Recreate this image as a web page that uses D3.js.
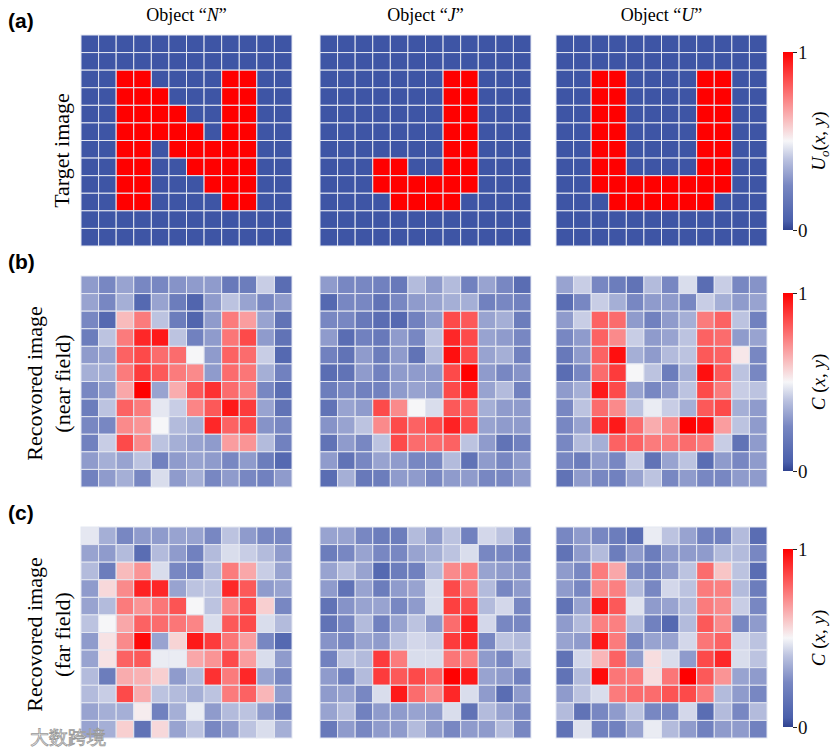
<!DOCTYPE html>
<html>
<head>
<meta charset="utf-8">
<title>Target and recovered images</title>
<style>
  body { margin: 0; background: #fff; }
  text { font-family: "Liberation Serif", "Times New Roman", serif; }
  .tag { font-family: "Liberation Sans", Arial, sans-serif; font-weight: bold; }
</style>
</head>
<body>
<svg width="833" height="748"></svg>
<script src="https://d3js.org/d3.v7.min.js"></script>
<script>
// ---- data ----
var letters = ["N", "J", "U"];
var rowTags = ["(a)", "(b)", "(c)"];
var rowTitles = [["Target image"], ["Recovored image", "(near field)"], ["Recovored image", "(far field)"]];
var cbarLabels = ["U", "C", "C"];
var cbarTicks = [0, 1];

// target images, 1 = letter pixel
var targetN = [
  "000000000000",
  "000000000000",
  "001100001100",
  "001110001100",
  "001111001100",
  "001111101100",
  "001101111100",
  "001100111100",
  "001100011100",
  "001100001100",
  "000000000000",
  "000000000000"];
var targetJ = [
  "000000000000",
  "000000000000",
  "000000011000",
  "000000011000",
  "000000011000",
  "000000011000",
  "000000011000",
  "000110011000",
  "000111111000",
  "000011110000",
  "000000000000",
  "000000000000"];
var targetU = [
  "000000000000",
  "000000000000",
  "001100001100",
  "001100001100",
  "001100001100",
  "001100001100",
  "001100001100",
  "001100001100",
  "001111111100",
  "000111111000",
  "000000000000",
  "000000000000"];

// recovered, near field
var nearN = [
  [.30,.25,.32,.25,.25,.28,.30,.30,.18,.20,.42,.12],
  [.32,.25,.35,.10,.32,.20,.08,.30,.40,.32,.25,.30],
  [.25,.10,.62,.75,.40,.20,.08,.30,.75,.68,.32,.15],
  [.20,.40,.75,.92,.95,.40,.22,.30,.76,.85,.30,.15],
  [.30,.32,.80,.85,.78,.78,.50,.30,.80,.78,.42,.10],
  [.35,.35,.75,.88,.82,.75,.72,.30,.78,.76,.35,.22],
  [.25,.30,.66,1.0,.32,.65,.82,.90,.78,.75,.25,.12],
  [.20,.40,.80,.75,.47,.42,.73,.82,.95,.88,.32,.15],
  [.25,.25,.72,.70,.50,.38,.35,.92,.80,.85,.28,.25],
  [.22,.42,.85,.72,.40,.35,.32,.30,.68,.70,.38,.22],
  [.30,.35,.32,.40,.22,.30,.32,.30,.25,.30,.20,.10],
  [.22,.30,.35,.25,.45,.30,.35,.25,.30,.25,.22,.30]];
var nearJ = [
  [.30,.25,.25,.22,.18,.38,.30,.38,.22,.32,.25,.12],
  [.10,.25,.25,.15,.25,.30,.32,.35,.35,.22,.25,.22],
  [.25,.25,.18,.12,.10,.22,.30,.85,.82,.32,.35,.20],
  [.30,.12,.22,.18,.30,.25,.40,.92,.85,.32,.30,.25],
  [.22,.15,.30,.20,.30,.15,.38,.97,.85,.32,.35,.22],
  [.12,.15,.30,.22,.30,.30,.30,.85,1.0,.30,.25,.28],
  [.20,.25,.22,.22,.30,.32,.30,.85,.92,.32,.38,.22],
  [.15,.32,.30,.85,.72,.50,.45,.82,.80,.35,.30,.30],
  [.28,.32,.40,.72,.85,.80,.85,.93,.85,.32,.30,.30],
  [.15,.30,.25,.40,.85,.78,.78,.80,.40,.30,.15,.22],
  [.30,.15,.25,.32,.30,.25,.25,.38,.15,.30,.25,.30],
  [.12,.35,.18,.20,.30,.30,.25,.30,.30,.25,.25,.30]];
var nearU = [
  [.32,.42,.25,.20,.15,.38,.25,.45,.12,.42,.25,.28],
  [.12,.25,.42,.35,.25,.30,.30,.25,.42,.35,.30,.32],
  [.30,.42,.80,.78,.30,.22,.30,.35,.75,.80,.40,.22],
  [.25,.30,.80,.72,.42,.30,.32,.40,.80,.78,.30,.32],
  [.18,.30,.80,.97,.35,.30,.38,.40,.82,.80,.53,.25],
  [.12,.25,.78,.88,.50,.40,.20,.35,.97,.82,.40,.25],
  [.30,.35,.95,.85,.32,.25,.30,.40,.85,.75,.42,.40],
  [.25,.40,.78,.72,.40,.48,.42,.35,.82,.85,.35,.30],
  [.25,.32,.90,.95,.78,.65,.72,1.0,.97,.68,.40,.30],
  [.25,.38,.35,.80,.80,.75,.75,.78,.75,.42,.15,.30],
  [.25,.20,.30,.25,.42,.15,.32,.40,.12,.30,.25,.30],
  [.15,.30,.25,.22,.32,.40,.25,.30,.25,.25,.30,.30]];

// recovered, far field
var farN = [
  [.47,.35,.25,.30,.30,.32,.32,.25,.40,.30,.25,.25],
  [.32,.30,.38,.12,.38,.30,.22,.38,.45,.42,.38,.30],
  [.38,.20,.62,.70,.45,.25,.22,.38,.75,.66,.42,.32],
  [.30,.56,.72,.93,.92,.32,.40,.40,.92,.82,.30,.32],
  [.32,.38,.75,.70,.76,.83,.50,.40,.72,.85,.58,.25],
  [.40,.50,.66,.80,.78,.76,.73,.45,.82,.85,.45,.38],
  [.30,.54,.72,.98,.32,.57,.95,.88,.76,.68,.25,.10],
  [.32,.54,.80,.82,.48,.48,.66,.70,.85,.68,.45,.30],
  [.38,.20,.65,.64,.58,.30,.38,.90,.75,.92,.32,.25],
  [.38,.42,.85,.65,.40,.38,.35,.40,.75,.80,.63,.30],
  [.32,.35,.35,.52,.22,.35,.48,.30,.38,.40,.30,.22],
  [.32,.35,.58,.15,.56,.32,.40,.25,.30,.40,.45,.35]];
var farJ = [
  [.32,.32,.25,.20,.20,.38,.30,.40,.22,.44,.40,.25],
  [.20,.25,.32,.25,.25,.32,.35,.40,.45,.25,.25,.22],
  [.32,.38,.32,.10,.20,.22,.38,.72,.74,.32,.30,.28],
  [.30,.15,.32,.20,.30,.32,.45,.85,.75,.38,.25,.30],
  [.15,.28,.32,.32,.25,.30,.45,.87,.85,.38,.44,.25],
  [.15,.25,.38,.22,.32,.40,.30,.78,.93,.44,.25,.25],
  [.28,.25,.32,.30,.40,.44,.42,.88,.92,.25,.40,.38],
  [.22,.40,.38,.88,.75,.45,.45,.76,.74,.30,.25,.38],
  [.30,.22,.38,.88,.82,.85,.80,1.0,.95,.32,.30,.22],
  [.30,.32,.25,.45,.95,.78,.72,.92,.45,.30,.12,.30],
  [.32,.38,.22,.30,.30,.32,.30,.45,.15,.38,.32,.25],
  [.18,.30,.25,.30,.30,.38,.30,.25,.30,.30,.38,.25]];
var farU = [
  [.25,.30,.25,.20,.12,.48,.40,.32,.22,.22,.38,.12],
  [.15,.30,.38,.20,.30,.20,.30,.30,.30,.38,.38,.25],
  [.30,.25,.75,.66,.25,.22,.30,.40,.78,.60,.40,.12],
  [.30,.25,.72,.74,.38,.25,.44,.40,.75,.74,.38,.20],
  [.15,.32,.95,.82,.46,.30,.32,.38,.75,.72,.42,.25],
  [.30,.38,.74,.74,.38,.22,.10,.38,.82,.72,.25,.30],
  [.32,.30,.95,.75,.25,.32,.32,.44,.76,.80,.44,.40],
  [.15,.44,.63,.80,.30,.55,.45,.30,.85,.92,.45,.40],
  [.15,.38,.98,.76,.75,.55,.76,1.0,.82,.70,.32,.30],
  [.30,.40,.45,.75,.78,.78,.83,.85,.75,.38,.30,.25],
  [.38,.15,.25,.30,.40,.25,.25,.44,.12,.38,.25,.38],
  [.15,.46,.22,.22,.32,.48,.38,.30,.22,.30,.30,.22]];

function bits(rows) {
  return rows.map(function(r) { return r.split("").map(Number); });
}

var grids = [
  [bits(targetN), bits(targetJ), bits(targetU)],
  [nearN, nearJ, nearU],
  [farN, farJ, farU]
];

// ---- layout ----
var svg = d3.select("svg");
var panelX = [81, 320, 556];
var panelY = [35, 276, 527];
var size = 211;
var n = 12;

// blue - white - red, blue half a bit darker in the middle
var color = d3.scaleLinear()
    .domain([0, 0.25, 0.4, 0.5, 0.75, 1])
    .range(["#3e55a5", "#7887c2", "#bcc3e0", "#f6f6f8", "#fb7b7c", "#ff0000"])
    .interpolate(d3.interpolateRgb);

var x = d3.scaleBand().domain(d3.range(n)).range([0, size]);
var y = d3.scaleBand().domain(d3.range(n)).range([0, size]);

// column titles
letters.forEach(function(L, j) {
  var t = svg.append("text")
      .attr("x", panelX[j] + size / 2)
      .attr("y", 21)
      .attr("text-anchor", "middle")
      .attr("font-size", 18);
  t.append("tspan").text("Object \u201C");
  t.append("tspan").attr("font-style", "italic").text(L);
  t.append("tspan").text("\u201D");
});

grids.forEach(function(row, i) {
  // row tag
  svg.append("text")
      .attr("class", "tag")
      .attr("x", 8)
      .attr("y", panelY[i] - 7)
      .attr("font-size", 21)
      .text(rowTags[i]);

  // row title, rotated
  var lines = rowTitles[i];
  var cy = panelY[i] + size / 2 + (lines.length == 1 ? 10 : 2);
  lines.forEach(function(s, k) {
    var cx = lines.length == 1 ? 69 : 42 + k * 28;
    svg.append("text")
        .attr("transform", "translate(" + cx + "," + cy + ") rotate(-90)")
        .attr("text-anchor", "middle")
        .attr("font-size", 22)
        .text(s);
  });

  row.forEach(function(grid, j) {
    var g = svg.append("g")
        .attr("transform", "translate(" + panelX[j] + "," + panelY[i] + ")");
    var cells = [];
    grid.forEach(function(r, ri) {
      r.forEach(function(v, ci) { cells.push({r: ri, c: ci, v: v}); });
    });
    g.selectAll("rect")
      .data(cells)
      .enter().append("rect")
        .attr("x", function(d) { return x(d.c); })
        .attr("y", function(d) { return y(d.r); })
        .attr("width", x.bandwidth())
        .attr("height", y.bandwidth())
        .attr("fill", function(d) { return color(d.v); })
        .attr("stroke", "#e4e7f1")
        .attr("stroke-width", 1);
  });
});

// colorbar gradient
var defs = svg.append("defs");
var grad = defs.append("linearGradient")
    .attr("id", "cbar")
    .attr("x1", 0).attr("y1", 1).attr("x2", 0).attr("y2", 0);
d3.range(0, 1.001, 0.05).forEach(function(s) {
  grad.append("stop")
      .attr("offset", s)
      .attr("stop-color", s < 0.05 ? "#2f428f" : color(s));
});

var cbarTop = [52, 293, 549];
var cbarH = 178;
cbarTop.forEach(function(top, i) {
  var g = svg.append("g").attr("transform", "translate(783," + top + ")");
  g.append("rect")
      .attr("width", 10)
      .attr("height", cbarH)
      .attr("fill", "url(#cbar)");
  var cy = d3.scaleLinear().domain([0, 1]).range([cbarH, 0]);
  var ax = g.append("g")
      .attr("transform", "translate(10,0)")
      .call(d3.axisRight(cy).tickValues(cbarTicks).tickSize(4).tickFormat(d3.format("d")));
  ax.select(".domain").remove();
  ax.selectAll("line").attr("stroke", "#222");
  ax.selectAll("text")
      .attr("font-family", "Liberation Serif, serif")
      .attr("font-size", 19)
      .attr("fill", "#111")
      .attr("x", 5);

  var lab = g.append("text")
      .attr("transform", "translate(42," + (cbarH / 2) + ") rotate(-90)")
      .attr("text-anchor", "middle")
      .attr("font-size", 19);
  lab.append("tspan").attr("font-style", "italic").text(cbarLabels[i]);
  if (i == 0) {
    lab.append("tspan").attr("font-style", "italic").attr("font-size", 13).attr("dy", 4).text("o");
    lab.append("tspan").attr("dy", -4).text("(");
  } else {
    lab.append("tspan").text(" (");
  }
  lab.append("tspan").attr("font-style", "italic").text("x");
  lab.append("tspan").text(", ");
  lab.append("tspan").attr("font-style", "italic").text("y");
  lab.append("tspan").text(")");
});

// watermark
svg.append("text")
    .attr("x", 30)
    .attr("y", 744)
    .attr("font-family", "Noto Sans CJK SC, sans-serif")
    .attr("font-size", 19)
    .attr("fill", "#fff")
    .attr("fill-opacity", 0.8)
    .attr("stroke", "#999")
    .attr("stroke-width", 0.8)
    .text("\u5927\u6570\u8DE8\u5883");
</script>
</body>
</html>
